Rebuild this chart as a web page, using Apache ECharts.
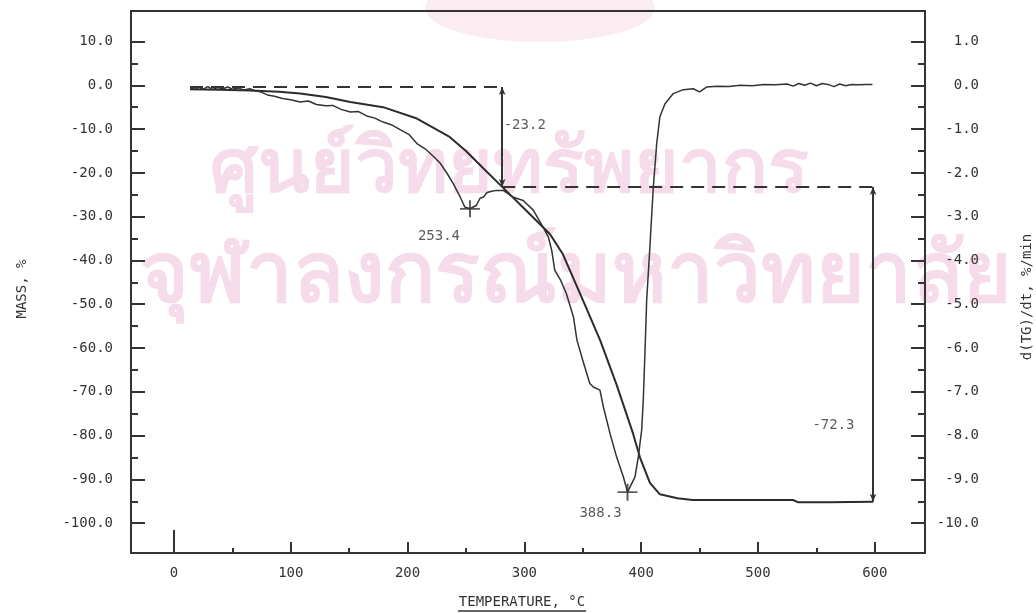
<!DOCTYPE html>
<html><head><meta charset="utf-8">
<script src="https://cdn.jsdelivr.net/npm/echarts@6/dist/echarts.min.js"></script>
<style>html,body{margin:0;padding:0;background:#fff}#c{width:1036px;height:613px}</style>
</head><body><div id="c"></div>
<script>
// ---- axis ticks ----
const tempTicks = [0, 100, 200, 300, 400, 500, 600];
const tempMinorTicks = [50, 150, 250, 350, 450, 550];
const massTicks = [-100, -90, -80, -70, -60, -50, -40, -30, -20, -10, 0, 10];
const massMinorTicks = [-95, -85, -75, -65, -55, -45, -35, -25, -15, -5, 5];
const rateTicks = [-10, -9, -8, -7, -6, -5, -4, -3, -2, -1, 0, 1];
const rateMinorTicks = [-9.5, -8.5, -7.5, -6.5, -5.5, -4.5, -3.5, -2.5, -1.5, -0.5, 0.5];

// ---- TG curve (mass %) ----
const tgTemp = [13.7, 40, 65, 90, 108, 130, 151, 179, 208, 236, 250, 265, 281, 300, 322, 333, 350, 365, 379, 393, 399, 407.5, 416, 431, 444, 485, 530, 534, 560, 598.5];
const tgMass = [-0.9, -1.0, -1.2, -1.5, -1.9, -2.7, -3.8, -5.0, -7.6, -11.8, -15.0, -19.0, -23.2, -28.2, -34.0, -38.6, -49.0, -58.3, -68.4, -79.5, -85.0, -90.8, -93.4, -94.3, -94.7, -94.7, -94.7, -95.2, -95.2, -95.1];

// ---- DTG curve (%/min) ----
const dtgTemp = [13.7, 18, 21, 25, 29, 33, 37, 42, 46, 50, 55, 60, 65, 70, 74, 80, 86, 93, 100, 108, 115, 122, 130, 136, 143, 151, 158, 165, 172, 179, 186, 194, 201, 208, 215, 222, 228, 234, 239, 245, 249, 253.4, 259, 262, 265, 268, 272, 276, 282, 290, 299, 307.6, 316, 320.5, 323.4, 326, 331, 336, 342, 345, 350, 356, 359, 364.7, 367.6, 373.3, 379, 384.7, 388.3, 394.7, 397.5, 400.4, 401.8, 403.3, 404.7, 407, 410.4, 413.3, 416, 420.4, 427.5, 436, 444.6, 450, 456, 465, 475, 485, 495, 505, 515, 525, 530, 535, 540, 545, 550, 555, 560, 565, 570, 575, 580, 586, 592, 598];
const dtgRate = [-0.05, -0.10, -0.04, -0.09, -0.03, -0.10, -0.05, -0.08, -0.04, -0.09, -0.06, -0.11, -0.08, -0.13, -0.15, -0.22, -0.25, -0.30, -0.33, -0.38, -0.36, -0.44, -0.47, -0.46, -0.55, -0.61, -0.60, -0.70, -0.75, -0.84, -0.90, -1.02, -1.12, -1.33, -1.45, -1.62, -1.78, -2.02, -2.24, -2.55, -2.78, -2.82, -2.74, -2.58, -2.55, -2.45, -2.42, -2.40, -2.40, -2.55, -2.63, -2.85, -3.24, -3.46, -3.77, -4.22, -4.45, -4.76, -5.29, -5.82, -6.28, -6.81, -6.89, -6.96, -7.34, -7.95, -8.49, -8.94, -9.29, -8.94, -8.49, -7.88, -7.19, -6.05, -4.91, -3.90, -2.32, -1.33, -0.72, -0.42, -0.19, -0.10, -0.08, -0.15, -0.04, -0.02, -0.03, 0.00, -0.01, 0.02, 0.01, 0.03, -0.02, 0.04, 0.00, 0.05, -0.01, 0.04, 0.02, -0.03, 0.03, -0.01, 0.02, 0.01, 0.02, 0.02];

// ---- annotations ----
const stepTemps = [13.7, 281, 598.5];      // start, first step end, second step end
const stepLevels = [-0.4, -23.2, -95.1];   // mass levels of the step construction
const stepLabels = ['-23.2', '-72.3'];
const peakTemps = [253.4, 388.3];
const peakRates = [-2.82, -9.29];

const INK = '#333';
const FONT = 'DejaVu Sans Mono';
const WM = '#f6dcea';

const chart = echarts.init(document.getElementById('c'), null, {renderer: 'canvas'});

const noLine = {show: false, onZero: false};
const xBase = {type: 'value', min: -36.8, max: 643, position: 'bottom', axisLine: noLine, splitLine: {show: false}};
const yLeft = {type: 'value', min: -106.8, max: 16.96, position: 'left', axisLine: noLine, splitLine: {show: false}};
const yRight = {type: 'value', min: -10.68, max: 1.696, position: 'right', axisLine: noLine, splitLine: {show: false}};
const lbl = {color: INK, fontFamily: FONT, fontSize: 14};

const arrowLine = {color: INK, width: 2, type: 'solid'};
const dashLine = {color: INK, width: 2, type: [13, 8]};

const option = {
  animation: false,
  backgroundColor: '#fff',
  grid: {left: 131, right: 111, top: 11, bottom: 60, show: true, borderColor: INK, borderWidth: 2, backgroundColor: 'transparent'},
  xAxis: [
    Object.assign({}, xBase, {
      axisTick: {show: true, inside: true, length: 11, customValues: tempTicks.filter(v => v !== 0), lineStyle: {color: INK, width: 2}},
      axisLabel: Object.assign({customValues: tempTicks, margin: 13, formatter: v => String(v)}, lbl)
    }),
    Object.assign({}, xBase, {
      axisTick: {show: true, inside: true, length: 5, customValues: tempMinorTicks, lineStyle: {color: INK, width: 2}},
      axisLabel: {show: false}
    }),
    Object.assign({}, xBase, {
      axisTick: {show: true, inside: true, length: 23, customValues: [tempTicks[0]], lineStyle: {color: INK, width: 2}},
      axisLabel: {show: false}
    })
  ],
  yAxis: [
    Object.assign({}, yLeft, {
      axisTick: {show: true, inside: true, length: 14, customValues: massTicks, lineStyle: {color: INK, width: 2}},
      axisLabel: Object.assign({customValues: massTicks, margin: 18, formatter: v => v.toFixed(1)}, lbl)
    }),
    Object.assign({}, yLeft, {
      axisTick: {show: true, inside: true, length: 7, customValues: massMinorTicks, lineStyle: {color: INK, width: 2}},
      axisLabel: {show: false}
    }),
    Object.assign({}, yRight, {
      axisTick: {show: true, inside: true, length: 14, customValues: rateTicks, lineStyle: {color: INK, width: 2}},
      axisLabel: Object.assign({customValues: rateTicks, margin: 54, align: 'right', formatter: v => v.toFixed(1)}, lbl)
    }),
    Object.assign({}, yRight, {
      axisTick: {show: true, inside: true, length: 7, customValues: rateMinorTicks, lineStyle: {color: INK, width: 2}},
      axisLabel: {show: false}
    })
  ],
  graphic: [
    {type: 'ellipse', z: -11, shape: {cx: 540, cy: 8, rx: 115, ry: 34}, style: {fill: '#fbecf1'}},
    {type: 'text', z: -10, left: 210, top: 132, style: {text: 'ศูนย์วิทยทรัพยากร', fill: WM, font: 'bold 76px "Noto Sans", sans-serif'}},
    {type: 'text', z: -10, left: 140, top: 236, style: {text: 'จุฬาลงกรณ์มหาวิทยาลัย', fill: WM, font: 'bold 83px "Noto Sans", sans-serif'}},
    {type: 'text', x: 22, y: 289, rotation: Math.PI / 2, style: {text: 'MASS, %', fill: INK, font: '14px "DejaVu Sans Mono"', align: 'center', verticalAlign: 'middle'}},
    {type: 'text', x: 1027, y: 297, rotation: Math.PI / 2, style: {text: 'd(TG)/dt, %/min', fill: INK, font: '14px "DejaVu Sans Mono"', align: 'center', verticalAlign: 'middle'}},
    {type: 'text', x: 522, y: 602, style: {text: 'TEMPERATURE, °C', fill: INK, font: '14px "DejaVu Sans Mono"', align: 'center', verticalAlign: 'middle'}},
    {type: 'line', shape: {x1: 458, y1: 611, x2: 586, y2: 611}, style: {stroke: INK, lineWidth: 1.3}}
  ],
  series: [
    {
      type: 'line', name: 'TG', xAxisIndex: 0, yAxisIndex: 0, showSymbol: false, symbol: 'none',
      lineStyle: {color: '#2c2c2c', width: 2},
      data: tgTemp.map((t, i) => [t, tgMass[i]]),
      markLine: {
        silent: true, animation: false, symbol: ['none', 'none'], label: {show: false},
        data: [
          [{coord: [stepTemps[0], stepLevels[0]], lineStyle: dashLine}, {coord: [stepTemps[1], stepLevels[0]]}],
          [{coord: [stepTemps[1], stepLevels[1]], lineStyle: dashLine}, {coord: [stepTemps[2], stepLevels[1]]}],
          [{coord: [stepTemps[1], stepLevels[0]], lineStyle: arrowLine, symbol: 'arrow', symbolSize: [5, 8]}, {coord: [stepTemps[1], stepLevels[1]], symbol: 'arrow', symbolSize: [5, 8]}],
          [{coord: [stepTemps[2], stepLevels[1]], lineStyle: arrowLine, symbol: 'arrow', symbolSize: [5, 8]}, {coord: [stepTemps[2], stepLevels[2]], symbol: 'arrow', symbolSize: [5, 8]}]
        ]
      }
    },
    {
      type: 'line', name: 'DTG', xAxisIndex: 0, yAxisIndex: 2, showSymbol: false, symbol: 'none',
      lineStyle: {color: '#333', width: 1.5},
      data: dtgTemp.map((t, i) => [t, dtgRate[i]])
    },
    {
      type: 'scatter', name: 'peaks', xAxisIndex: 0, yAxisIndex: 2,
      symbol: 'path://M9,0h2v9h9v2h-9v9h-2v-9h-9v-2h9z', symbolSize: [20, 17],
      itemStyle: {color: INK},
      label: {show: true, position: 'bottom', color: INK, fontFamily: FONT, fontSize: 14,
        formatter: p => p.value[0].toFixed(1)},
      data: peakTemps.map((t, i) => ({value: [t, peakRates[i]], label: {offset: i === 0 ? [-31, 7] : [-27, 1]}}))
    },
    {
      type: 'scatter', name: 'steps', xAxisIndex: 0, yAxisIndex: 0, symbol: 'circle', symbolSize: 1,
      itemStyle: {color: 'rgba(0,0,0,0)'},
      label: {show: true, color: INK, fontFamily: FONT, fontSize: 14, formatter: p => p.data.txt},
      data: [
        {value: [stepTemps[1], (stepLevels[0] + stepLevels[1]) / 2], txt: stepLabels[0], label: {position: 'right', distance: 1, offset: [0, -12]}},
        {value: [stepTemps[2], (stepLevels[1] + stepLevels[2]) / 2], txt: stepLabels[1], label: {position: 'left', distance: 18, offset: [0, 81]}}
      ]
    }
  ]
};
chart.setOption(option);
</script></body></html>
